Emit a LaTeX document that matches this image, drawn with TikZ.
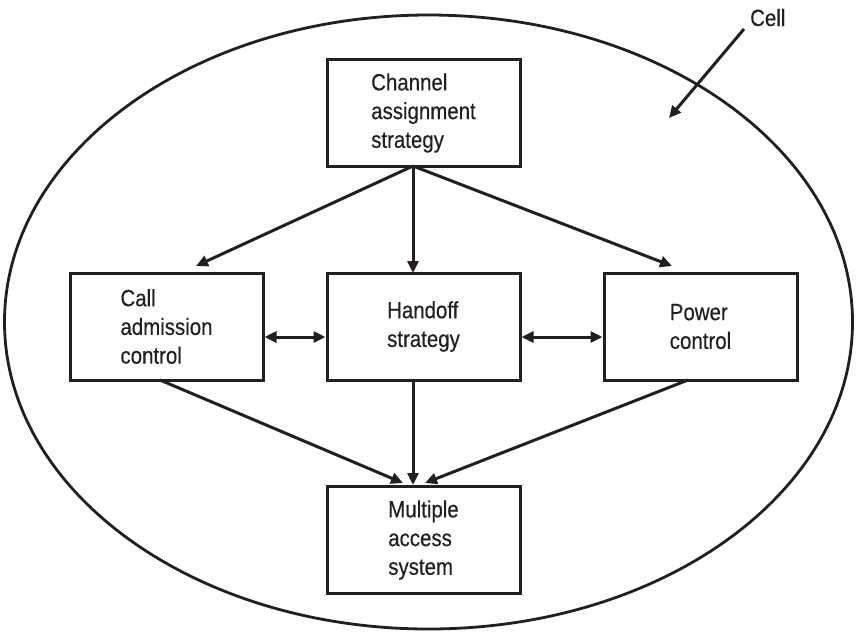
\documentclass[tikz,border=0pt]{standalone}
\usepackage{fontspec}
\setmainfont{Liberation Sans}[FakeStretch=0.87,FakeBold=0.4]
\usetikzlibrary{arrows.meta}
\definecolor{ink}{HTML}{231F20}
\begin{document}
\begin{tikzpicture}[x=1pt,y=-1pt,
  every node/.style={text=ink,font=\fontsize{23.5}{28.7}\selectfont},
  block/.style={draw=ink,line width=3pt,minimum width=193pt,minimum height=107pt,
    inner sep=0pt,align=left},
  link/.style={draw=ink,line width=3pt,-{Triangle[length=12pt,width=11pt]}},
  both/.style={draw=ink,line width=3pt,{Triangle[length=12pt,width=11pt]}-{Triangle[length=12pt,width=11pt]}}]
  \useasboundingbox (0,0) rectangle (857,633);

  % cell boundary
  \draw[ink,line width=2.8pt] (428.5,322) ellipse [x radius=424pt,y radius=307pt];

  % blocks
  \node[block] (ch)  at (423.5,113)   {Channel\\assignment\\strategy};
  \node[block] (cac) at (166.5,326.5) {Call\\admission\\control};
  \node[block] (ho)  at (423.5,326.5) {Handoff\\strategy};
  \node[block] (pc)  at (700.5,326.5) {Power\\control};
  \node[block] (mas) at (423.5,540)   {Multiple\\access\\system};

  % attachment points of the connectors
  \coordinate (chout) at (413,166);
  \coordinate (cacin) at (196,266);
  \coordinate (hoin)  at (413,273);
  \coordinate (pcin)  at (672,266);
  \coordinate (cacout) at (160,380);
  \coordinate (hoout)  at (413,380);
  \coordinate (pcout)  at (688,380);
  \coordinate (masl) at (403,483);
  \coordinate (masc) at (413,485);
  \coordinate (masr) at (425,483);

  % channel assignment feeds the three control blocks
  \draw[link] (chout) -- (cacin);
  \draw[link] (chout) -- (hoin);
  \draw[link] (chout) -- (pcin);

  % interactions between neighbouring blocks
  \draw[both] (cac.east |- 0,337) -- (ho.west |- 0,337);
  \draw[both] (ho.east |- 0,337) -- (pc.west |- 0,337);

  % all feed the multiple access system
  \draw[link] (cacout) -- (masl);
  \draw[link] (hoout) -- (masc);
  \draw[link] (pcout) -- (masr);

  % cell label
  \node[anchor=base west,inner sep=0pt] (cell) at (750,26) {Cell};
  \coordinate (cellin) at (669,118);
  \draw[link] (744,29) -- (cellin);
\end{tikzpicture}
\end{document}
